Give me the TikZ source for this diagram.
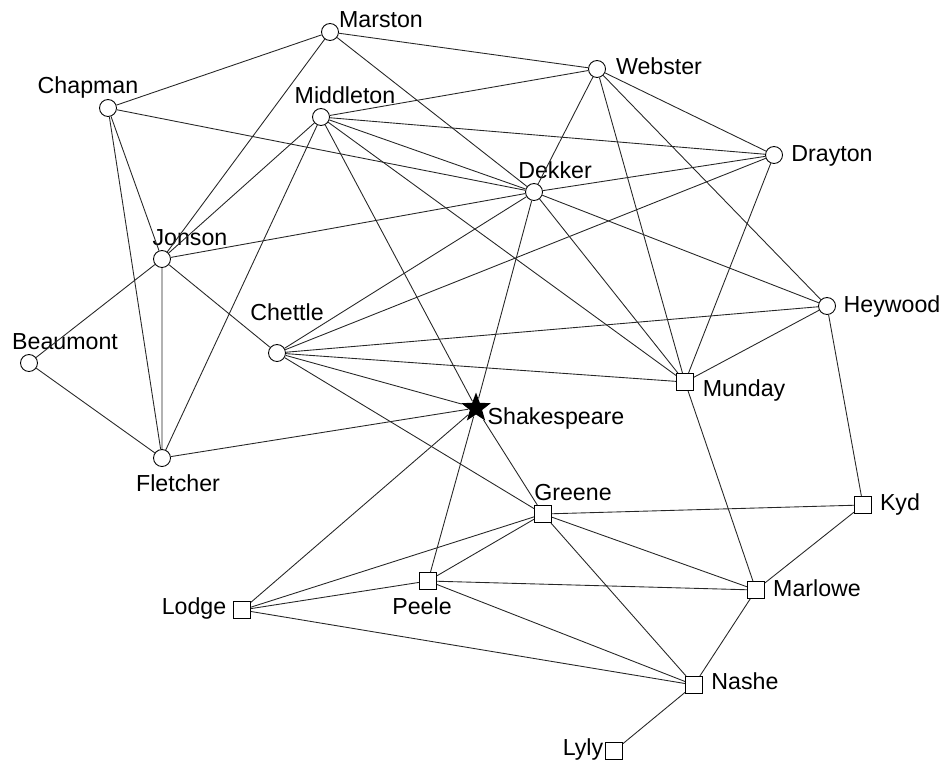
\documentclass[tikz,border=0pt]{standalone}
\usepackage{fontspec}
\setmainfont{Liberation Sans}
\usetikzlibrary{shapes.geometric}

\tikzset{
  poet/.style={circle, draw, fill=white, inner sep=0pt, minimum size=0.34cm, line width=0.5pt},
  elder/.style={rectangle, draw, fill=white, inner sep=0pt, minimum size=0.34cm, line width=0.5pt},
  bard/.style={star, star points=5, star point ratio=2.4, fill=black, inner sep=0pt, minimum size=0.62cm},
  nm/.style={anchor=base, inner sep=0pt, font=\fontsize{13.2}{16}\selectfont},
  tie/.style={line width=0.5pt, black!85}
}

\begin{document}
\begin{tikzpicture}[x=0.02cm, y=-0.02cm]
			%%%%% START %%%%%
			\useasboundingbox (0, 0) rectangle (943, 764);
			
			% circles
			\node[poet] (marston) at (330, 32) {};
			\node[poet] (chapman) at (108, 108) {};
			\node[poet] (middleton) at (321, 117) {};
			\node[poet] (webster) at (597, 69) {};
			\node[poet] (drayton) at (774, 155) {};
			\node[poet] (dekker) at (534, 192) {};
			\node[poet] (jonson) at (162, 259) {};
			\node[poet] (heywood) at (827, 306) {};
			\node[poet] (beaumont) at (29, 363) {};
			\node[poet] (chettle) at (277, 353) {};
			\node[poet] (fletcher) at (162, 458) {};
			
			% squares
			\node[elder] (munday) at (685, 382) {};
			\node[elder] (greene) at (543, 514) {};
			\node[elder] (kyd) at (863, 505) {};
			\node[elder] (peele) at (428, 581) {};
			\node[elder] (lodge) at (242, 610) {};
			\node[elder] (marlowe) at (756, 590) {};
			\node[elder] (nashe) at (694, 685) {};
			\node[elder] (lyly) at (614, 751) {};
			
			\node[bard] (shakespeare) at (476, 408) {};
			
			% names
			\node[nm] (l-marston) at (381, 28) {Marston};
			\node[nm] (l-chapman) at (88, 93) {Chapman};
			\node[nm] (l-middleton) at (345, 103) {Middleton};
			\node[nm] (l-webster) at (659, 74) {Webster};
			\node[nm] (l-drayton) at (832, 161) {Drayton};
			\node[nm] (l-dekker) at (555, 178) {Dekker};
			\node[nm] (l-jonson) at (190, 245) {Jonson};
			\node[nm] (l-heywood) at (892, 312) {Heywood};
			\node[nm] (l-beaumont) at (65, 349) {Beaumont};
			\node[nm] (l-chettle) at (287, 320) {Chettle};
			\node[nm] (l-munday) at (744, 396) {Munday};
			\node[nm] (l-shakespeare) at (556, 424) {Shakespeare};
			\node[nm] (l-fletcher) at (178, 491) {Fletcher};
			\node[nm] (l-greene) at (573, 500) {Greene};
			\node[nm] (l-kyd) at (900, 510) {Kyd};
			\node[nm] (l-peele) at (422, 614) {Peele};
			\node[nm] (l-lodge) at (194, 614) {Lodge};
			\node[nm] (l-marlowe) at (817, 596) {Marlowe};
			\node[nm] (l-nashe) at (745, 689) {Nashe};
			\node[nm] (l-lyly) at (583, 755) {Lyly};
			
			% ties
			\draw[tie] (marston) -- (chapman) (marston) -- (webster) (marston) -- (jonson) (marston) -- (dekker);
			\draw[tie] (chapman) -- (dekker) (chapman) -- (jonson) (chapman) -- (fletcher);
			\draw[tie] (middleton) -- (webster) (middleton) -- (drayton) (middleton) -- (dekker) (middleton) -- (munday);
			\draw[tie] (middleton) -- (shakespeare) (middleton) -- (jonson) (middleton) -- (fletcher);
			\draw[tie] (webster) -- (dekker) (webster) -- (drayton) (webster) -- (heywood) (webster) -- (munday);
			\draw[tie] (drayton) -- (dekker) (drayton) -- (chettle) (drayton) -- (munday);
			\draw[tie] (dekker) -- (jonson) (dekker) -- (chettle) (dekker) -- (shakespeare) (dekker) -- (munday) (dekker) -- (heywood);
			\draw[tie] (jonson) -- (beaumont) (jonson) -- (fletcher) (jonson) -- (chettle);
			\draw[tie] (heywood) -- (chettle) (heywood) -- (munday) (heywood) -- (kyd);
			\draw[tie] (beaumont) -- (fletcher);
			\draw[tie] (chettle) -- (munday) (chettle) -- (shakespeare) (chettle) -- (greene);
			\draw[tie] (munday) -- (marlowe);
			\draw[tie] (shakespeare) -- (fletcher) (shakespeare) -- (lodge) (shakespeare) -- (peele) (shakespeare) -- (greene);
			\draw[tie] (greene) -- (kyd) (greene) -- (marlowe) (greene) -- (nashe) (greene) -- (peele) (greene) -- (lodge);
			\draw[tie] (peele) -- (lodge) (peele) -- (marlowe) (peele) -- (nashe);
			\draw[tie] (lodge) -- (nashe);
			\draw[tie] (marlowe) -- (kyd) (marlowe) -- (nashe);
			\draw[tie] (nashe) -- (lyly);
			
			%%%%% END %%%%%
\end{tikzpicture}
\end{document}
